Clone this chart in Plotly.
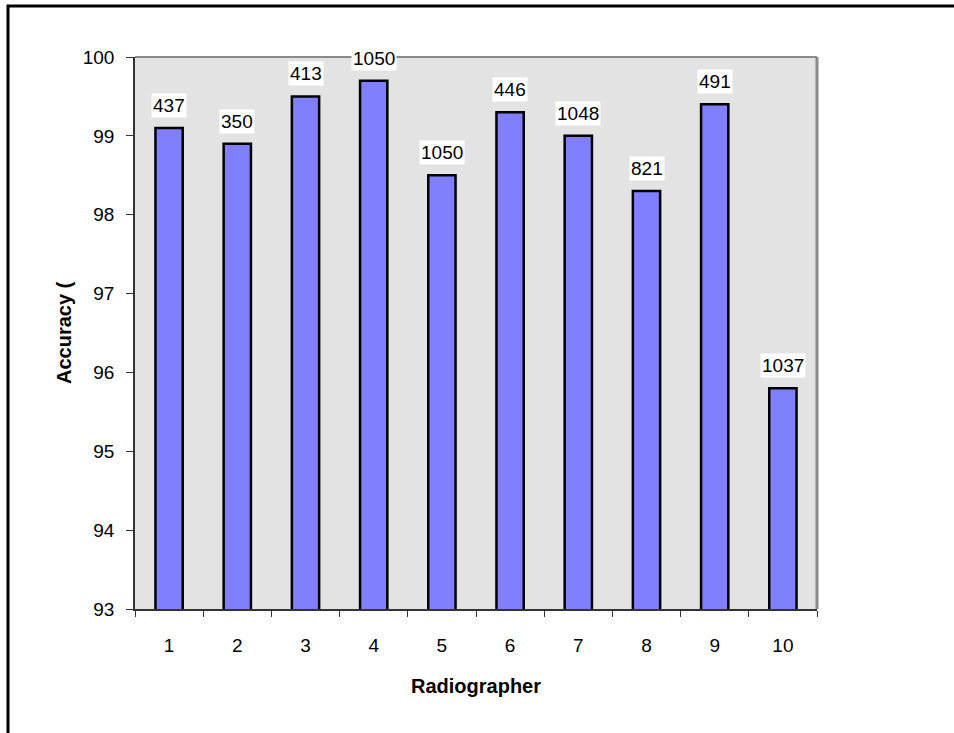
import plotly.graph_objects as go

# Radiographer accuracy with number of cases reported above each bar
radiographers = ["1", "2", "3", "4", "5", "6", "7", "8", "9", "10"]
accuracy = [99.1, 98.9, 99.5, 99.7, 98.5, 99.3, 99.0, 98.3, 99.4, 95.8]
cases = [437, 350, 413, 1050, 1050, 446, 1048, 821, 491, 1037]
y_ticks = [93, 94, 95, 96, 97, 98, 99, 100]

FONT = "Liberation Sans, Arial, sans-serif"
W, H = 954, 733
L, R, T, B = 135, 137, 57, 124
pw, ph = W - L - R, H - T - B

fig = go.Figure()
fig.add_trace(go.Bar(
    x=radiographers,
    y=accuracy,
    width=0.4,
    marker=dict(color="#8080FF", line=dict(color="black", width=2.5)),
    hoverinfo="skip",
    cliponaxis=True,
))

# count labels on white boxes above the bars (category axis uses index positions)
for i, (v, n) in enumerate(zip(accuracy, cases)):
    fig.add_annotation(
        x=i, y=v, text=str(n), showarrow=False,
        yanchor="bottom", yshift=10,
        bgcolor="white", borderpad=1,
        font=dict(family=FONT, size=19, color="black"),
    )

# axis titles
fig.add_annotation(
    xref="paper", yref="paper", x=0.5, y=-(686 - (T + ph)) / ph,
    text="<b>Radiographer</b>", showarrow=False,
    xanchor="center", yanchor="middle",
    font=dict(family=FONT, size=20, color="black"),
)
fig.add_annotation(
    xref="paper", yref="paper", x=-(L - 64) / pw, y=0.5,
    text="<b>Accuracy (</b>", showarrow=False, textangle=-90,
    xanchor="center", yanchor="middle",
    font=dict(family=FONT, size=20, color="black"),
)

# plot frame: grey top/right edges with a darker shadow on the right
fig.add_shape(type="line", xref="paper", yref="paper", x0=0, x1=1, y0=1, y1=1,
              line=dict(color="#8a8a8a", width=2))
fig.add_shape(type="line", xref="paper", yref="paper", x0=1, x1=1, y0=0, y1=1,
              line=dict(color="#8a8a8a", width=3))

# outer chart border (left and top edges)
bx = (8 - L) / pw
by = 1 + (T - 6) / ph
fig.add_shape(type="path", xref="paper", yref="paper",
              path=f"M {bx} -0.5 L {bx} {by} L 1.5 {by}",
              line=dict(color="black", width=3))

fig.update_layout(
    width=W, height=H,
    margin=dict(l=L, r=R, t=T, b=B, pad=0),
    paper_bgcolor="white",
    plot_bgcolor="#E3E3E3",
    showlegend=False,
    font=dict(family=FONT, size=19, color="black"),
    xaxis=dict(
        type="category",
        range=[-0.5, 9.5],
        tickson="boundaries",
        ticks="outside", ticklen=6, tickwidth=1, tickcolor="#333333",
        showline=True, linecolor="#333333", linewidth=1.5,
        showgrid=False, zeroline=False,
        ticklabelstandoff=18,
        tickfont=dict(family=FONT, size=19, color="black"),
    ),
    yaxis=dict(
        range=[93, 100],
        tickvals=y_ticks,
        ticks="outside", ticklen=7, tickwidth=1, tickcolor="#333333",
        showline=True, linecolor="#333333", linewidth=1.5,
        showgrid=False, zeroline=False,
        ticklabelstandoff=8,
        tickfont=dict(family=FONT, size=19, color="black"),
    ),
)

fig.write_html("out.html")
